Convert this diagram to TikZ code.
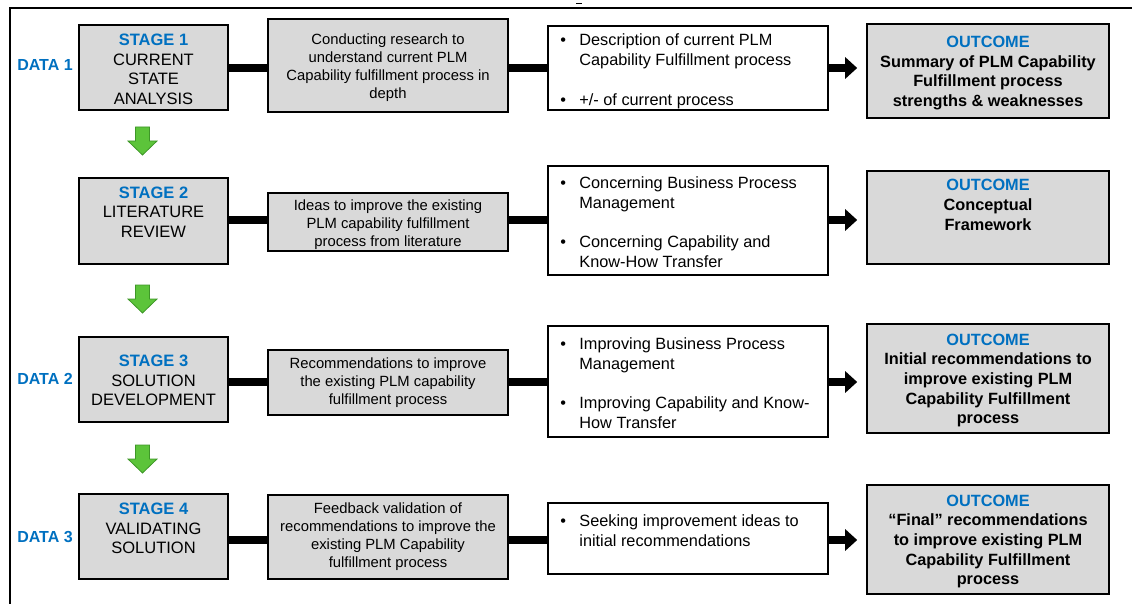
\documentclass[tikz,border=0pt]{standalone}
\usepackage{fontspec}
\setmainfont{Liberation Sans}
\usetikzlibrary{arrows.meta}
\definecolor{boxgray}{HTML}{D9D9D9}
\definecolor{stageblue}{HTML}{0070C0}
\definecolor{arrowgreen}{RGB}{92,196,58}
\definecolor{arrowedge}{RGB}{62,150,40}
\newcommand\bulletmark{\makebox[19pt][l]{\textbullet}}
\newcommand\bulletgap{\hspace*{19pt}}
\newcommand\bluehead[1]{\textcolor{stageblue}{\bfseries #1}}
% green down arrow: #1 = centre x, #2 = top y
\newcommand\greendown[2]{%
  \filldraw[greenarrow] ({#1-7},{#2}) -- ({#1+7},{#2}) -- ({#1+7},{#2+14})
    -- ({#1+14.5},{#2+14}) -- ({#1},{#2+28}) -- ({#1-14.5},{#2+14})
    -- ({#1-7},{#2+14}) -- cycle;}
\begin{document}
\begin{tikzpicture}[x=1pt,y=-1pt,
  graybox/.style={rectangle,draw=black,line width=1.6pt,fill=boxgray,inner sep=0pt},
  whitebox/.style={rectangle,draw=black,line width=1.6pt,fill=white,inner sep=0pt},
  stagetext/.style={align=center,inner sep=0pt,font=\fontsize{16.5}{19.6}\selectfont},
  midtext/.style={align=center,inner sep=0pt,font=\fontsize{14.8}{17.9}\selectfont},
  bullettext/.style={align=left,inner sep=0pt,anchor=west,font=\fontsize{16.3}{20}\selectfont},
  outtext/.style={align=center,inner sep=0pt,font=\bfseries\fontsize{16.3}{19.7}\selectfont},
  datalabel/.style={inner sep=0pt,text=stageblue,font=\bfseries\fontsize{16}{19}\selectfont},
  conn/.style={line width=8pt,draw=black},
  arr/.style={conn,-{Triangle[length=12pt,width=21pt]},shorten >=9pt},
  greenarrow/.style={fill=arrowgreen,draw=arrowedge,line width=0.8pt,line join=miter},
  frame/.style={line width=1.5pt,draw=black}
]
\useasboundingbox (0,0) rectangle (1132,604);

% outer frame
\draw[frame] (10,604) -- (10,8) -- (1132,8);
\draw[line width=1pt] (576,3.5) -- (582,3.5);

% row levels for the connectors
\coordinate (r1) at (0,68);
\coordinate (r2) at (0,220);
\coordinate (r3) at (0,382);
\coordinate (r4) at (0,540);

% stage boxes
\node[graybox,minimum width=149pt,minimum height=85pt] (s1) at (153.5,67.5) {};
\node[graybox,minimum width=149pt,minimum height=86pt] (s2) at (153.5,221) {};
\node[graybox,minimum width=149pt,minimum height=85pt] (s3) at (153.5,379.5) {};
\node[graybox,minimum width=149pt,minimum height=85pt] (s4) at (153.5,536.5) {};

% activity boxes
\node[graybox,minimum width=240pt,minimum height=93pt] (m1) at (388,65.5) {};
\node[graybox,minimum width=240pt,minimum height=58pt] (m2) at (388,222) {};
\node[graybox,minimum width=240pt,minimum height=65pt] (m3) at (388,382.5) {};
\node[graybox,minimum width=240pt,minimum height=84pt] (m4) at (388,537) {};

% bullet boxes
\node[whitebox,minimum width=280pt,minimum height=84pt] (b1) at (688,68) {};
\node[whitebox,minimum width=280pt,minimum height=109pt] (b2) at (688,220.5) {};
\node[whitebox,minimum width=280pt,minimum height=111pt] (b3) at (688,381.5) {};
\node[whitebox,minimum width=280pt,minimum height=71pt] (b4) at (688,538.5) {};

% outcome boxes
\node[graybox,minimum width=242pt,minimum height=94pt] (o1) at (988,71) {};
\node[graybox,minimum width=242pt,minimum height=93pt] (o2) at (988,217.5) {};
\node[graybox,minimum width=242pt,minimum height=109pt] (o3) at (988,378.5) {};
\node[graybox,minimum width=242pt,minimum height=109pt] (o4) at (988,539.5) {};

% connectors
\foreach \k in {1,2,3,4}{
  \draw[conn] (s\k.east |- r\k) -- (m\k.west |- r\k);
  \draw[conn] (m\k.east |- r\k) -- (b\k.west |- r\k);
  \draw[arr] (b\k.east |- r\k) -- (o\k.west |- r\k);
}

% stage texts
\node[stagetext] (s1t) at ([yshift=-2pt]s1.center) {\bluehead{STAGE 1}\\CURRENT\\STATE\\ANALYSIS};
\node[stagetext] (s2t) at ([yshift=9pt]s2.center) {\bluehead{STAGE 2}\\LITERATURE\\REVIEW};
\node[stagetext] (s3t) at ([yshift=-1pt]s3.center) {\bluehead{STAGE 3}\\SOLUTION\\DEVELOPMENT};
\node[stagetext] (s4t) at ([yshift=8pt]s4.center) {\bluehead{STAGE 4}\\VALIDATING\\SOLUTION};

% activity texts
\node[midtext] (m1t) at ([yshift=-2pt]m1.center) {Conducting research to\\understand current PLM\\Capability fulfillment process in\\depth};
\node[midtext] (m2t) at ([yshift=-3pt]m2.center) {Ideas to improve the existing\\PLM capability fulfillment\\process from literature};
\node[midtext] (m3t) at (m3.center) {Recommendations to improve\\the existing PLM capability\\fulfillment process};
\node[midtext] (m4t) at (m4.center) {Feedback validation of\\recommendations to improve the\\existing PLM Capability\\fulfillment process};

% bullet texts
\node[bullettext] (b1t) at ([xshift=13pt,yshift=-3.5pt]b1.west) {\bulletmark Description of current PLM\\\bulletgap Capability Fulfillment process\\[20pt]\bulletmark +/- of current process};
\node[bullettext] (b2t) at ([xshift=13pt,yshift=-2pt]b2.west) {\bulletmark Concerning Business Process\\\bulletgap Management\\[19pt]\bulletmark Concerning Capability and\\\bulletgap Know-How Transfer};
\node[bullettext] (b3t) at ([xshift=13pt,yshift=-2pt]b3.west) {\bulletmark Improving Business Process\\\bulletgap Management\\[19pt]\bulletmark Improving Capability and Know-\\\bulletgap How Transfer};
\node[bullettext] (b4t) at ([xshift=13pt,yshift=8pt]b4.west) {\bulletmark Seeking improvement ideas to\\\bulletgap initial recommendations};

% outcome texts
\node[outtext] (o1t) at ([yshift=-2pt]o1.center) {\bluehead{OUTCOME}\\Summary of PLM Capability\\Fulfillment process\\strengths \& weaknesses};
\node[outtext] (o2t) at ([yshift=12.5pt]o2.center) {\bluehead{OUTCOME}\\Conceptual\\Framework};
\node[outtext] (o3t) at ([yshift=-2pt]o3.center) {\bluehead{OUTCOME}\\Initial recommendations to\\improve existing PLM\\Capability Fulfillment\\process};
\node[outtext] (o4t) at ([yshift=-2pt]o4.center) {\bluehead{OUTCOME}\\“Final” recommendations\\to improve existing PLM\\Capability Fulfillment\\process};

% data labels
\node[datalabel] (d1) at (45,65) {DATA 1};
\node[datalabel] (d2) at (45,379) {DATA 2};
\node[datalabel] (d3) at (45,537) {DATA 3};

% green stage-to-stage arrows
\greendown{142.5}{127}
\greendown{142.5}{285}
\greendown{142.5}{445}
\end{tikzpicture}
\end{document}
